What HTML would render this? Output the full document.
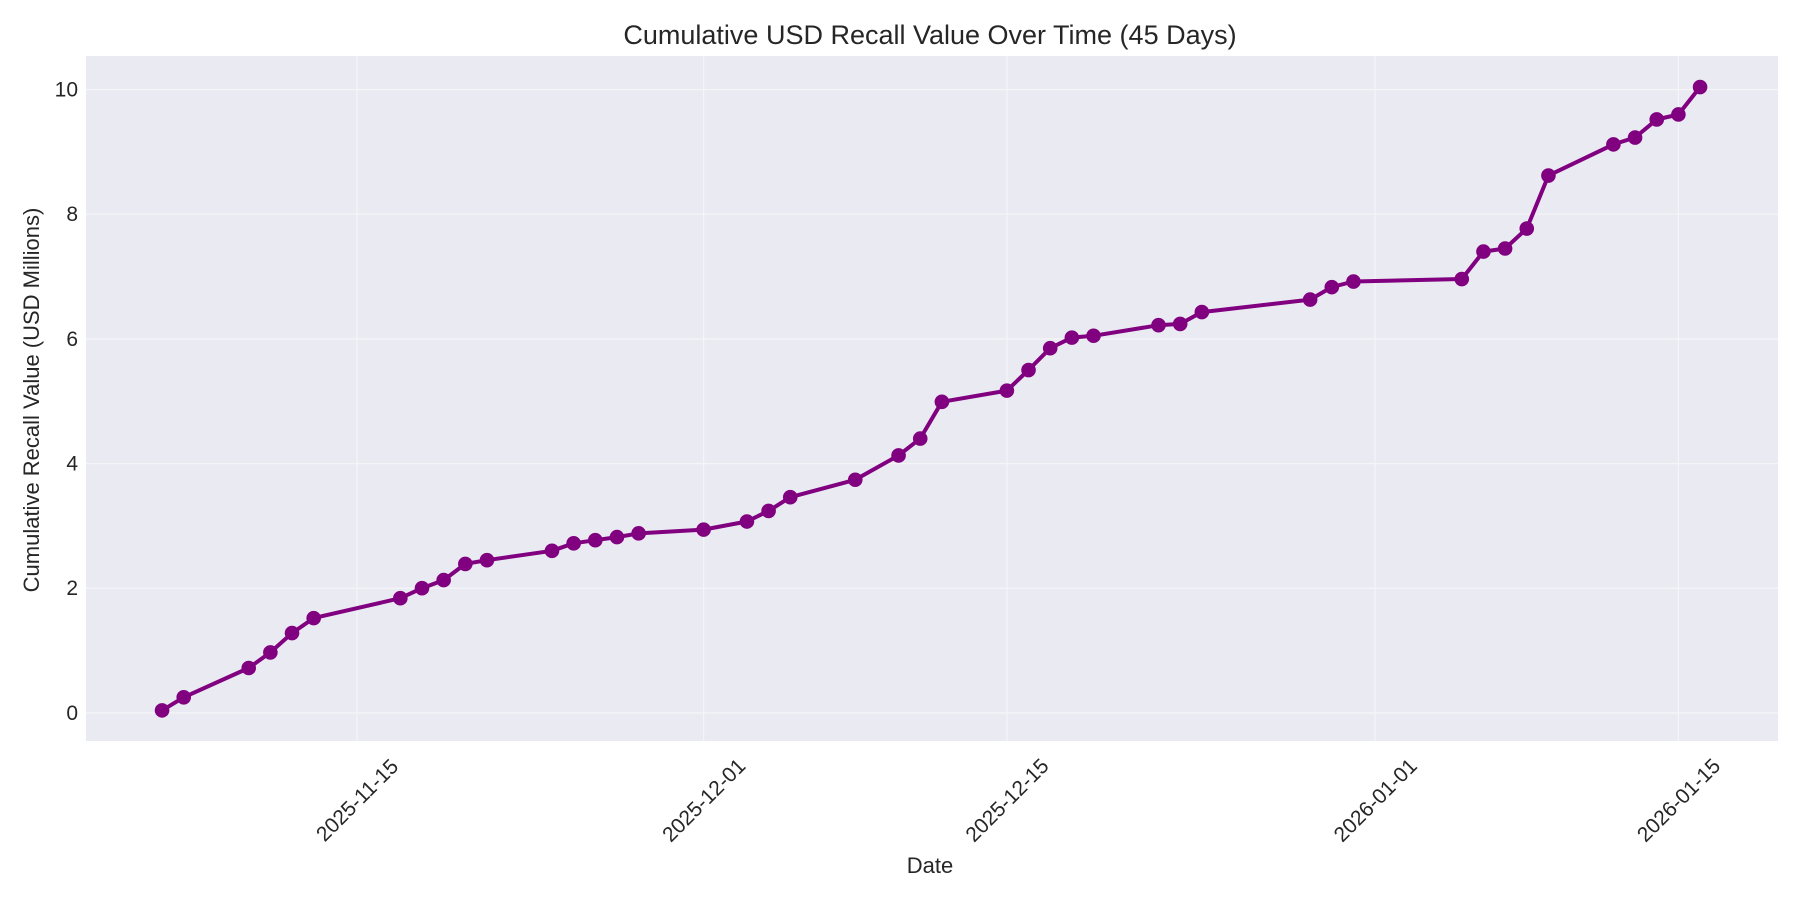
<!DOCTYPE html>
<html><head><meta charset="utf-8"><style>
html,body{margin:0;padding:0;background:#fff;}
svg{display:block;font-family:"Liberation Sans","DejaVu Sans",sans-serif;}
</style></head><body>
<svg id="chart" width="1800" height="900" viewBox="0 0 1800 900" xmlns="http://www.w3.org/2000/svg">
<rect x="0" y="0" width="1800" height="900" fill="#fff"/>
<rect x="86" y="56" width="1692" height="685" fill="#eaeaf2"/>
<g id="grid"></g>
<g id="series"></g>
<g id="axes"></g>
<text x="930" y="44" text-anchor="middle" font-size="27" fill="#262626">Cumulative USD Recall Value Over Time (45 Days)</text>
<text x="930" y="873" text-anchor="middle" font-size="22" fill="#262626">Date</text>
<text transform="translate(39,400) rotate(-90)" text-anchor="middle" font-size="22" fill="#262626">Cumulative Recall Value (USD Millions)</text>
</svg>
<script>
const dates = ["2025-11-06","2025-11-07","2025-11-10","2025-11-11","2025-11-12","2025-11-13","2025-11-17","2025-11-18","2025-11-19","2025-11-20","2025-11-21","2025-11-24","2025-11-25","2025-11-26","2025-11-27","2025-11-28","2025-12-01","2025-12-03","2025-12-04","2025-12-05","2025-12-08","2025-12-10","2025-12-11","2025-12-12","2025-12-15","2025-12-16","2025-12-17","2025-12-18","2025-12-19","2025-12-22","2025-12-23","2025-12-24","2025-12-29","2025-12-30","2025-12-31","2026-01-05","2026-01-06","2026-01-07","2026-01-08","2026-01-09","2026-01-12","2026-01-13","2026-01-14","2026-01-15","2026-01-16"];
const values = [0.04,0.25,0.72,0.97,1.28,1.52,1.84,2.0,2.13,2.39,2.45,2.6,2.72,2.77,2.82,2.88,2.94,3.07,3.24,3.46,3.74,4.13,4.40,4.99,5.17,5.50,5.85,6.02,6.05,6.22,6.24,6.43,6.63,6.83,6.92,6.96,7.40,7.45,7.77,8.62,9.12,9.23,9.52,9.60,10.04];
const xTickLabels = ["2025-11-15","2025-12-01","2025-12-15","2026-01-01","2026-01-15"];
const yTicks = [0,2,4,6,8,10];

const NS="http://www.w3.org/2000/svg";
const day0 = Date.UTC(2025,10,15);
function dayOf(s){const p=s.split("-");return (Date.UTC(+p[0],+p[1]-1,+p[2])-day0)/86400000;}
const sx=1800/1568, sy=900/784;
function X(s){return (311+dayOf(s)*18.87)*sx;}
function Y(v){return (621-v*54.3)*sy;}
function mk(t,a,p){const e=document.createElementNS(NS,t);for(const k in a)e.setAttribute(k,a[k]);p.appendChild(e);return e;}
const grid=document.getElementById("grid"),axes=document.getElementById("axes"),ser=document.getElementById("series");
xTickLabels.forEach(l=>{
  const x=X(l);
  const g=mk("line",{x1:x,x2:x,y1:56,y2:741,stroke:"#f5f5f8","stroke-width":1.2},grid);
  
  
  const t=mk("text",{x:0,y:0,"font-size":21,fill:"#262626","text-anchor":"middle",dy:"0.35em",transform:`translate(${x},${800}) rotate(-45)`},axes);
  t.textContent=l;
  
  
});
yTicks.forEach(v=>{
  const y=Y(v);
  const g=mk("line",{x1:86,x2:1778,y1:y,y2:y,stroke:"#f5f5f8","stroke-width":1.2},grid);
  
  
  const t=mk("text",{x:78,y:y+7,"font-size":21,fill:"#262626","text-anchor":"end"},axes);
  t.textContent=v;
  
  
});
const pts=dates.map((d,i)=>X(d).toFixed(1)+","+Y(values[i]).toFixed(1)).join(" ");
const line=mk("polyline",{points:pts,fill:"none",stroke:"#800080","stroke-width":4,"stroke-linejoin":"round"},ser);


dates.forEach((d,i)=>{
  const c=mk("circle",{cx:X(d),cy:Y(values[i]),r:7.3,fill:"#800080"},ser);
  
  
});
</script>
</body></html>
